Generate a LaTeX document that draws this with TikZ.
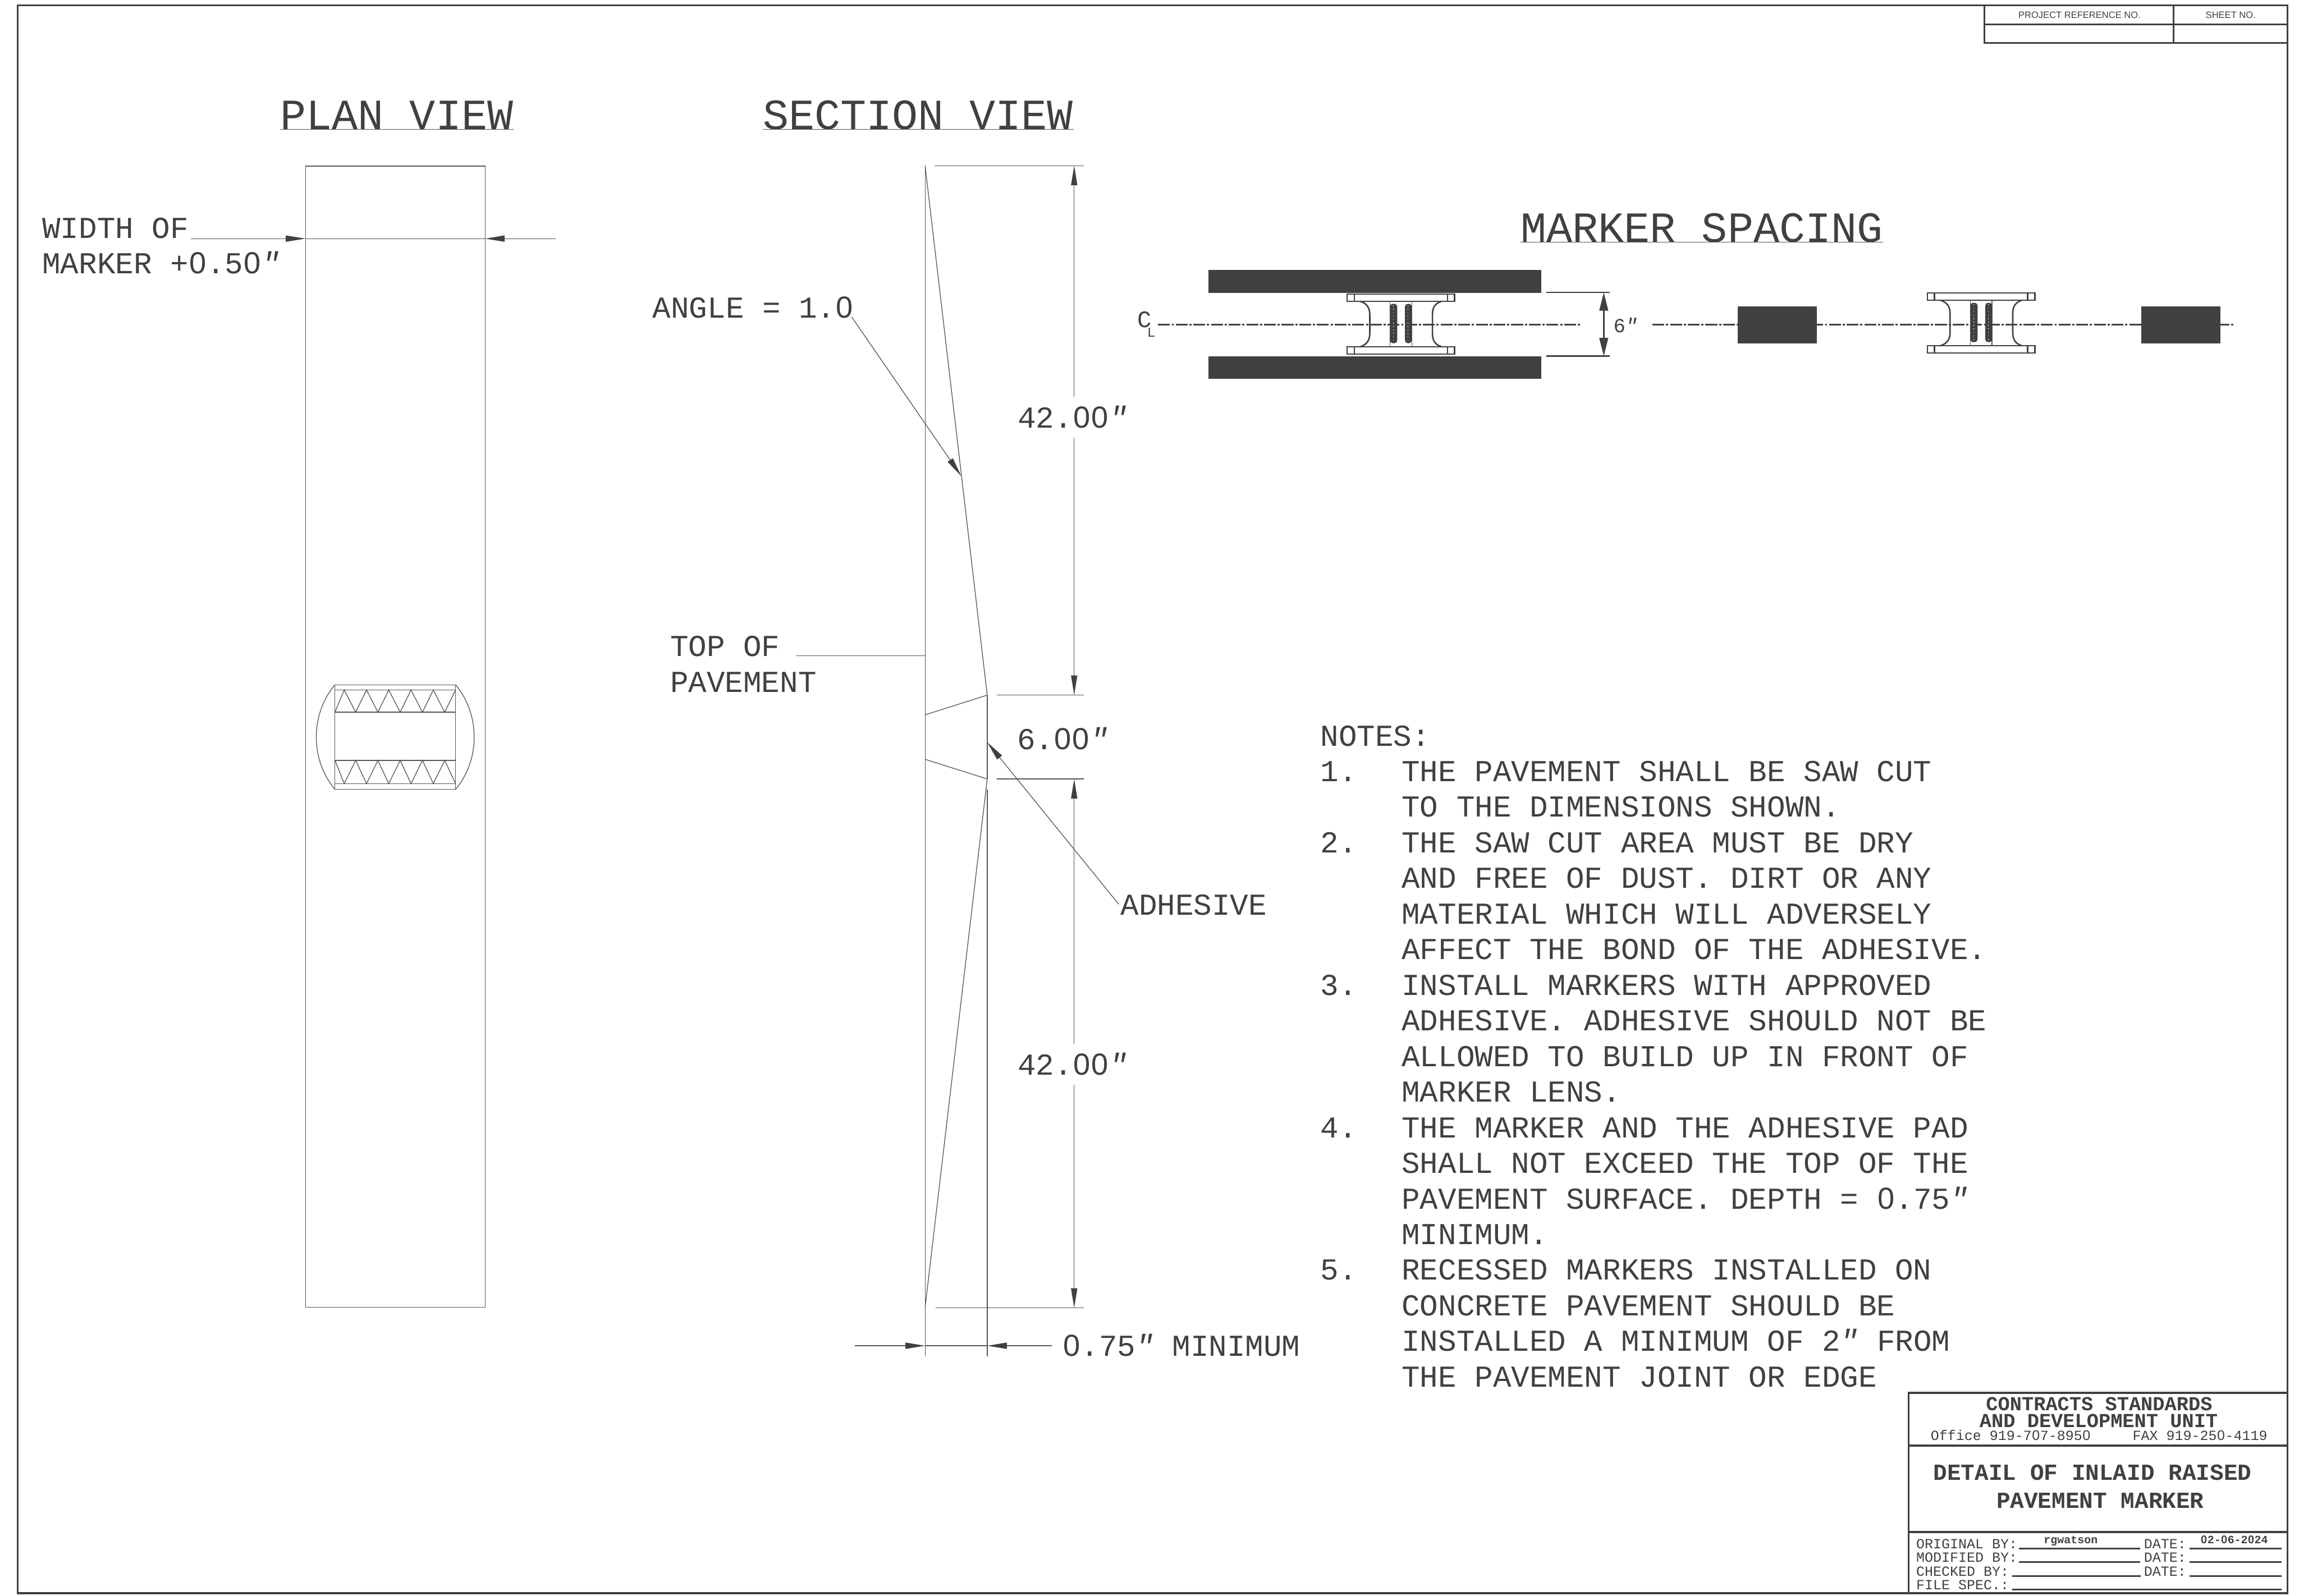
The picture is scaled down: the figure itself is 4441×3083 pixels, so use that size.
\documentclass[tikz,border=0pt]{standalone}
\usepackage{fontspec}
\setmainfont{Liberation Mono}
\newfontfamily\plainzero{Liberation Sans}
\newcommand{\zr}{\makebox[0.6em]{\plainzero 0}}
\newcommand{\inch}{{\itshape ″}}
\definecolor{Ink}{RGB}{64, 64, 64}
\definecolor{Wire}{RGB}{85, 85, 85}
\usetikzlibrary{arrows.meta, calc}

\begin{document}
\begin{tikzpicture}[
        x=0.01cm, y=-0.01cm,
        dimtip/.tip={Triangle[length=10.8pt, width=3.4pt, color=Ink, fill=Ink]},
        widetip/.tip={Triangle[length=10pt, width=4.8pt, color=Ink, fill=Ink]},
        frame/.style={draw=Ink, line width=1pt},
        wire/.style={draw=Wire, line width=0.4pt},
        heavy/.style={draw=Ink, line width=0.8pt},
        solid bar/.style={fill=Ink, draw=none},
        label/.style={inner sep=0pt, text=Ink, anchor=base west, font=\fontsize{16.73}{20}\selectfont},
        dimlabel/.style={label, anchor=base},
        heading/.style={label, font=\fontsize{23.67}{28}\selectfont},
        unitline/.style={inner sep=0pt, text=Ink, anchor=base, font=\bfseries\fontsize{10.9}{13}\selectfont},
        phone/.style={inner sep=0pt, text=Ink, anchor=base west, font=\fontsize{7.7}{9}\selectfont},
        titleline/.style={inner sep=0pt, text=Ink, anchor=base, font=\bfseries\fontsize{12.66}{15}\selectfont},
        filled/.style={inner sep=0pt, text=Ink, anchor=base, font=\bfseries\fontsize{6.16}{8}\selectfont},
        tab/.style={inner sep=0pt, text=Ink, anchor=base, font=\plainzero\fontsize{5.1}{6}\selectfont}
    ]
        \useasboundingbox (0,0) rectangle (4441,3083);
        \draw [frame] (34,10) rectangle (4419,3078);

        \draw [frame] (3833,10) rectangle (4419,83);
        \draw [frame] (3833,47) -- (4419,47);
        \draw [frame] (4199,10) -- (4199,83);
        \node [tab] (projectno) at (4017,35) {PROJECT REFERENCE NO.};
        \node [tab] (sheetno) at (4309,35) {SHEET NO.};

        \node [heading] (planhead) at (541,250) {PLAN VIEW};
        \node [heading] (sectionhead) at (1473,250) {SECTION VIEW};
        \node [heading] (spacinghead) at (2937,468) {MARKER SPACING};
        \draw [wire] (planhead.base west) -- (planhead.base east);
        \draw [wire] (sectionhead.base west) -- (sectionhead.base east);
        \draw [wire] (spacinghead.base west) -- (spacinghead.base east);

        \coordinate (planleft) at (590,461);
        \coordinate (planright) at (937,461);
        \draw [wire] (590,321) rectangle (937,2526);
        \node [label] (widthof) at (81,460) {WIDTH OF};
        \node [label] (plusfifty) at (81,529) {MARKER +\zr.5\zr\inch};
        \draw [wire, -{dimtip}] (369,461) -- (planleft);
        \draw [wire] (planleft) -- (planright);
        \draw [wire, -{dimtip}] (1073,461) -- (planright);

        \draw [wire] (647,1323) rectangle (880,1525);
        \draw [wire] (647,1333) -- (880,1333);
        \draw [wire] (647,1376) -- (880,1376);
        \draw [wire] (647,1469) -- (880,1469);
        \draw [wire] (647,1514) -- (880,1514);
        \draw [wire] (647,1376) -- (665,1333) -- (687,1376) -- (708,1333) -- (730,1376) -- (751,1333) -- (773,1376) -- (794,1333) -- (816,1376) -- (837,1333) -- (859,1376) -- (880,1333);
        \draw [wire] (647,1469) -- (665,1514) -- (687,1469) -- (708,1514) -- (730,1469) -- (751,1514) -- (773,1469) -- (794,1514) -- (816,1469) -- (837,1514) -- (859,1469) -- (880,1514);
        \draw [wire] (647,1323) .. controls (599,1380) and (599,1468) .. (647,1525);
        \draw [wire] (880,1323) .. controls (928,1380) and (928,1468) .. (880,1525);

        \coordinate (topcorner) at (1787,320);
        \coordinate (lowcorner) at (1787,2526);
        \coordinate (kinkup) at (1907,1343);
        \coordinate (kinkdown) at (1907,1505);
        \draw [wire] (topcorner) -- (1787,2620);
        \draw [wire] (kinkup) -- (kinkdown);
        \draw [wire] (1907,1525) -- (1907,2620);
        \draw [wire] (topcorner) -- (kinkup);
        \draw [wire] (kinkdown) -- (lowcorner);
        \draw [wire] (1787,1381) -- (kinkup);
        \draw [wire] (1787,1467) -- (kinkdown);

        \draw [wire] (1805,320) -- (2094,320);
        \draw [wire] (1926,1343) -- (2094,1343);
        \draw [wire] (1926,1505) -- (2094,1505);
        \draw [wire] (1807,2527) -- (2094,2527);

        \node [dimlabel] (upperdim) at (2072,827) {42.\zr\zr\inch};
        \node [dimlabel] (midpiece) at (2053,1448) {6.\zr\zr\inch};
        \node [dimlabel] (lowerdim) at (2072,2077) {42.\zr\zr\inch};
        \draw [wire, {dimtip}-] (2075,320) -- (2075,767);
        \draw [wire, -{dimtip}] (2075,846) -- (2075,1343);
        \draw [wire, {dimtip}-] (2075,1505) -- (2075,2017);
        \draw [wire, -{dimtip}] (2075,2096) -- (2075,2527);

        \node [label] (anglenote) at (1260,614) {ANGLE = 1.\zr};
        \coordinate (angletip) at (1857,920);
        \draw [wire, -{dimtip}] (1645,612) -- (angletip);

        \node [label] (topof) at (1294,1268) {TOP OF};
        \node [label] (pavement) at (1294,1337) {PAVEMENT};
        \draw [wire] (1538,1267) -- (1787,1267);

        \node [label] (adhesive) at (2164,1768) {ADHESIVE};
        \coordinate (adhesivetip) at (1907,1434);
        \draw [wire, -{dimtip}] (2161,1747) -- (adhesivetip);

        \coordinate (depthleft) at (1787,2600);
        \coordinate (depthright) at (1907,2600);
        \node [label] (depthnote) at (2052,2620) {\zr.75\inch{} MINIMUM};
        \draw [wire, -{dimtip}] (1651,2600) -- (depthleft);
        \draw [wire] (depthleft) -- (depthright);
        \draw [wire, -{dimtip}] (2032,2600) -- (depthright);

        \draw [heavy, dash pattern=on 6.5pt off 1pt on 1.2pt off 1pt] (2237,627) -- (3055,627);
        \draw [heavy, dash pattern=on 6.5pt off 1pt on 1.2pt off 1pt] (3192,627) -- (4316,627);

        \fill [solid bar] (2334,521) rectangle (2977,566);
        \fill [solid bar] (2334,688) rectangle (2977,732);
        \fill [solid bar] (3357,592) rectangle (3510,664);
        \fill [solid bar] (4136,592) rectangle (4289,664);

        \foreach \mx/\my in {0/0, 1121/-2} {
            \begin{scope}[shift={(\mx,\my)}]
                \draw [heavy, fill=white] (2602,568) rectangle (2810,582);
                \draw [heavy, fill=white] (2602,670) rectangle (2810,684);
                \draw [heavy] (2616,568) -- (2616,582);
                \draw [heavy] (2796,568) -- (2796,582);
                \draw [heavy] (2616,670) -- (2616,684);
                \draw [heavy] (2796,670) -- (2796,684);
                \draw [heavy] (2627,582) .. controls (2640,586) and (2646,594) .. (2646,608) -- (2646,644) .. controls (2646,658) and (2640,666) .. (2627,670);
                \draw [heavy] (2785,582) .. controls (2772,586) and (2767,594) .. (2767,608) -- (2767,644) .. controls (2767,658) and (2772,666) .. (2785,670);
                \draw [wire] (2685,582) -- (2685,670);
                \draw [wire] (2727,582) -- (2727,670);
                \fill [solid bar, rounded corners=1.5pt] (2685,587) rectangle (2699,663);
                \fill [solid bar, rounded corners=1.5pt] (2714,587) rectangle (2727,663);
                \draw [white, line width=0.3pt, dash pattern=on 0.5pt off 1.4pt] (2692,590) -- (2692,660);
                \draw [white, line width=0.3pt, dash pattern=on 0.5pt off 1.4pt] (2720,590) -- (2720,660);
            \end{scope}
        }

        \node [inner sep=0pt, text=Ink, anchor=base, font=\fontsize{13}{15}\selectfont] (centerc) at (2211,633) {C};
        \node [inner sep=0pt, text=Ink, anchor=base, font=\fontsize{7.5}{9}\selectfont] (centerl) at (2224,651) {L};

        \coordinate (spanup) at (3098,565);
        \coordinate (spandown) at (3098,688);
        \draw [heavy] (2987,565) -- (3109,565);
        \draw [heavy] (2987,688) -- (3109,688);
        \draw [heavy, {widetip}-{widetip}] (spanup) -- (spandown);
        \node [inner sep=0pt, text=Ink, anchor=base west, font=\fontsize{11}{13}\selectfont] (spanlabel) at (3116,642) {6\inch};

        \node [label] (noteshead) at (2550,1441) {NOTES:};
        \foreach \lno/\ntext in {1/1., 3/2., 7/3., 11/4., 15/5.} {
            \node [label] (num\lno) at (2550,{1441+68.8*\lno}) {\ntext};
        }
        \foreach \ltext [count=\lno] in {
            THE PAVEMENT SHALL BE SAW CUT,
            TO THE DIMENSIONS SHOWN.,
            THE SAW CUT AREA MUST BE DRY,
            AND FREE OF DUST. DIRT OR ANY,
            MATERIAL WHICH WILL ADVERSELY,
            AFFECT THE BOND OF THE ADHESIVE.,
            INSTALL MARKERS WITH APPROVED,
            ADHESIVE. ADHESIVE SHOULD NOT BE,
            ALLOWED TO BUILD UP IN FRONT OF,
            MARKER LENS.,
            THE MARKER AND THE ADHESIVE PAD,
            SHALL NOT EXCEED THE TOP OF THE,
            PAVEMENT SURFACE. DEPTH = \zr.75\inch,
            MINIMUM.,
            RECESSED MARKERS INSTALLED ON,
            CONCRETE PAVEMENT SHOULD BE,
            INSTALLED A MINIMUM OF 2\inch{} FROM,
            THE PAVEMENT JOINT OR EDGE} {
            \node [label] (note\lno) at (2707,{1441+68.8*\lno}) {\ltext};
        }

        \draw [frame, fill=white] (3687,2691) rectangle (4419,3078);
        \draw [frame] (3687,2793) -- (4419,2793);
        \draw [frame] (3687,2960) -- (4419,2960);
        \node [unitline] (unitone) at (4055,2725) {CONTRACTS STANDARDS};
        \node [unitline] (unittwo) at (4054,2758) {AND DEVELOPMENT UNIT};
        \node [phone] (office) at (3729,2783) {Office 919-7\zr7-895\zr};
        \node [phone] (fax) at (4119,2783) {FAX 919-25\zr-4119};
        \node [titleline] (titleone) at (4042,2860) {DETAIL OF INLAID RAISED};
        \node [titleline] (titletwo) at (4057,2914) {PAVEMENT MARKER};

        \node [phone] (origby) at (3701,2992) {ORIGINAL BY:};
        \node [phone] (modby) at (3701,3018) {MODIFIED BY:};
        \node [phone] (chkby) at (3701,3045) {CHECKED BY:};
        \node [phone] (filespec) at (3701,3071) {FILE SPEC.:};
        \node [phone] (dateone) at (4141,2992) {DATE:};
        \node [phone] (datetwo) at (4141,3018) {DATE:};
        \node [phone] (datethree) at (4141,3045) {DATE:};
        \node [filled] (origname) at (4000,2982) {rgwatson};
        \node [filled] (origdate) at (4316,2982) {\zr2-\zr6-2\zr24};
        \draw [heavy] (3900,2992) -- (4134,2992);
        \draw [heavy] (3900,3018) -- (4134,3018);
        \draw [heavy] (3887,3045) -- (4135,3045);
        \draw [heavy] (3887,3071) -- (4407,3071);
        \draw [heavy] (4230,2992) -- (4407,2992);
        \draw [heavy] (4230,3018) -- (4407,3018);
        \draw [heavy] (4230,3045) -- (4407,3045);
    \end{tikzpicture}
\end{document}
